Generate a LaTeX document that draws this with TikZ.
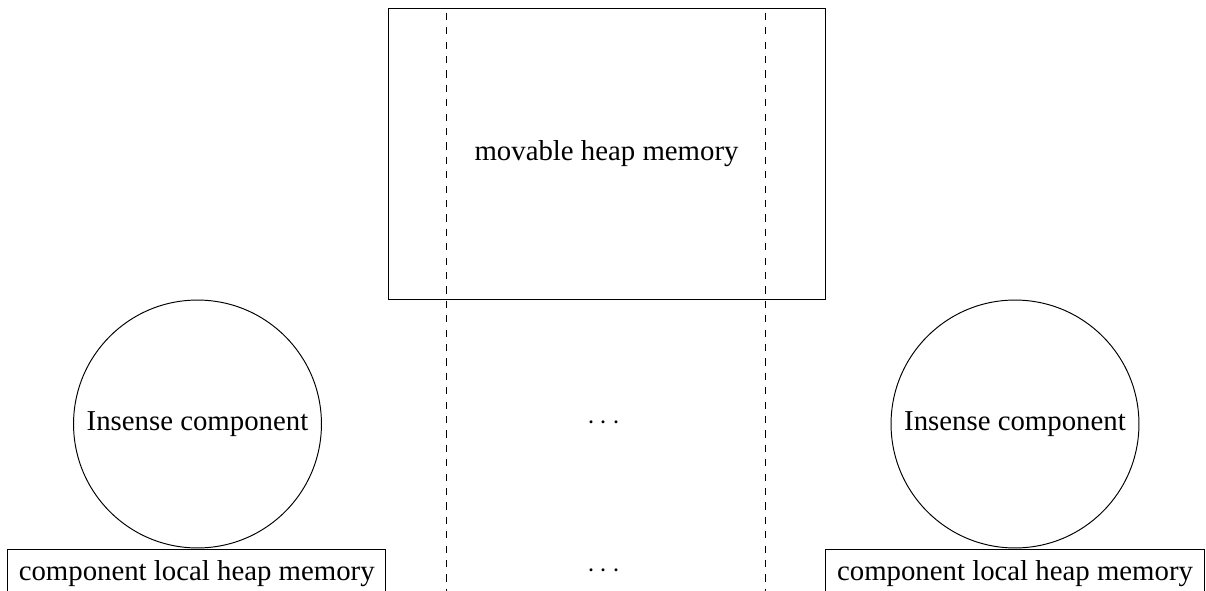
\documentclass[tikz,border=0pt]{standalone}
\usepackage{fontspec}
\setmainfont{Liberation Serif}
\begin{document}
\begin{tikzpicture}[x=0.416667pt,y=-0.416667pt,
  every node/.style={font=\fontsize{12}{14.4}\selectfont},
  heapbox/.style={draw,rectangle,minimum width=182.1pt,minimum height=121.25pt,inner sep=0pt},
  compcircle/.style={draw,circle,minimum size=103.3pt,inner sep=0pt},
  localbox/.style={draw,rectangle,minimum width=157.6pt,inner xsep=0pt,inner ysep=4.8pt,anchor=north},
  divider/.style={dashed}]
\useasboundingbox (0,0) rectangle (1206,590);
\node[heapbox] (heap) at (606.5,153.5) {movable heap memory};
\coordinate (d1top) at (446.7,12.7);
\coordinate (d1bot) at (446.7,610);
\coordinate (d2top) at (765.7,12.7);
\coordinate (d2bot) at (765.7,610);
\draw[divider] (d1top) -- (d1bot);
\draw[divider] (d2top) -- (d2bot);
\node[compcircle] (c1) at (197.5,424) {Insense component};
\node[compcircle] (c2) at (1015,424) {Insense component};
\node[localbox] (l1) at (196.7,548.5) {component local heap memory};
\node[localbox] (l2) at (1015,548.5) {component local heap memory};
\node (dots1) at (604,423) {$\cdots$};
\node (dots2) at (604,571) {$\cdots$};
\end{tikzpicture}
\end{document}
